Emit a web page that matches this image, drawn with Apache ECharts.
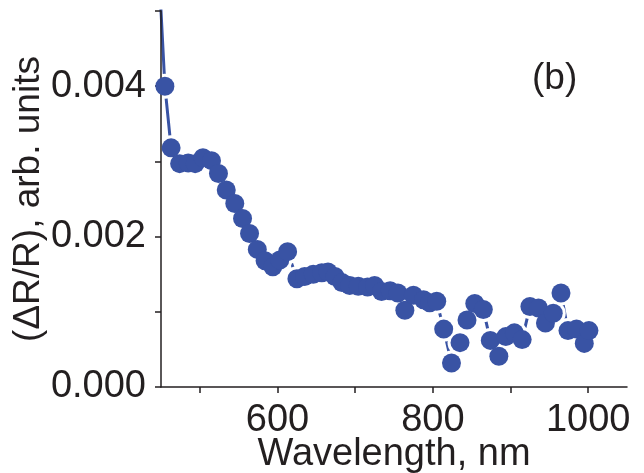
<!DOCTYPE html>
<html>
<head>
<meta charset="utf-8">
<script src="https://cdn.jsdelivr.net/npm/echarts@6/dist/echarts.min.js"></script>
<style>
html,body{margin:0;padding:0;background:#fff;}
#chart{width:644px;height:473px;}
</style>
</head>
<body>
<div id="chart"></div>
<script>
// Wavelength (nm) of each measured point
const wavelength = [445, 455, 463, 474, 485, 494, 504, 515, 524, 534, 545, 555, 564, 574, 584, 594, 603, 613,
  625, 635, 646, 657, 665, 674, 683, 693, 704, 716, 725, 734, 745, 755, 764, 775, 788, 796, 805,
  814, 824, 835, 844, 854, 865, 874, 885, 894, 905, 915, 925, 936, 945, 955, 965, 974, 985, 995, 1001];
// (ΔR/R) values
const deltaR = [0.00600, 0.00400, 0.00318, 0.00297, 0.00298, 0.00297, 0.00305, 0.00301, 0.00284, 0.00262, 0.00244, 0.00224, 0.00204, 0.00183, 0.00168, 0.00160, 0.00169, 0.00180,
  0.00144, 0.00147, 0.00150, 0.00152, 0.00153, 0.00147, 0.00139, 0.00135, 0.00134, 0.00133, 0.00135, 0.00127, 0.00128, 0.00125, 0.00102, 0.00122, 0.00116, 0.00112, 0.00114,
  0.00077, 0.00032, 0.00059, 0.00089, 0.00111, 0.00103, 0.00062, 0.00041, 0.00067, 0.00072, 0.00063, 0.00107, 0.00105, 0.00085, 0.00098, 0.00125, 0.00075, 0.00077, 0.00058, 0.00075];
// Axis ticks and labels
const xTicks = [500, 600, 700, 800, 900, 1000];
const xLabels = [600, 800, 1000];
const yTicks = [0, 0.001, 0.002, 0.003, 0.004, 0.005];
const yLabels = [0, 0.002, 0.004];

const points = wavelength.map((w, i) => [w, deltaR[i]]);
const blue = '#3953a4';
const ink = '#231f20';
const font = 'Liberation Sans, Arial, Helvetica, sans-serif';

const chart = echarts.init(document.getElementById('chart'), null, {renderer: 'canvas'});
chart.setOption({
  animation: false,
  backgroundColor: '#ffffff',
  grid: {left: 161, right: 17, top: 11, bottom: 86, containLabel: false, outerBoundsMode: 'none'},
  xAxis: {
    type: 'value', min: 450, max: 1050, z: 3,
    name: 'Wavelength, nm', nameLocation: 'middle', nameGap: 49, nameMoveOverlap: false,
    nameTextStyle: {fontFamily: font, fontSize: 38, color: ink},
    axisLine: {show: true, lineStyle: {color: ink, width: 1.5}},
    axisTick: {show: true, length: 6, inside: false, customValues: xTicks, lineStyle: {color: ink, width: 1.5}},
    axisLabel: {customValues: xLabels, margin: 15, fontFamily: font, fontSize: 38, color: ink,
      formatter: v => String(v)},
    splitLine: {show: false}
  },
  yAxis: {
    type: 'value', min: 0, max: 0.005, z: 3,
    name: '(\u0394R/R), arb. units', nameLocation: 'middle', nameGap: 114, nameMoveOverlap: false,
    nameTextStyle: {fontFamily: font, fontSize: 37, color: ink},
    axisLine: {show: true, lineStyle: {color: ink, width: 1.5}},
    axisTick: {show: true, length: 6, inside: false, customValues: yTicks, lineStyle: {color: ink, width: 1.5}},
    axisLabel: {customValues: yLabels, margin: 15, fontFamily: font, fontSize: 38, color: ink,
      formatter: v => v.toFixed(3)},
    splitLine: {show: false}
  },
  graphic: [{
    type: 'text', left: 532, top: 60, z: 10,
    style: {text: '(b)', fontFamily: font, fontSize: 37, fill: ink}
  }],
  series: [
    {type: 'line', data: points, showSymbol: false, clip: true, z: 1, silent: true,
      lineStyle: {color: blue, width: 3}},
    {type: 'scatter', data: points, symbolSize: 25, clip: true, z: 2, silent: true,
      itemStyle: {color: '#ffffff', opacity: 1}},
    {type: 'scatter', data: points, symbolSize: 19, clip: true, z: 4, silent: true,
      itemStyle: {color: blue, opacity: 1}}
  ]
});
</script>
</body>
</html>
